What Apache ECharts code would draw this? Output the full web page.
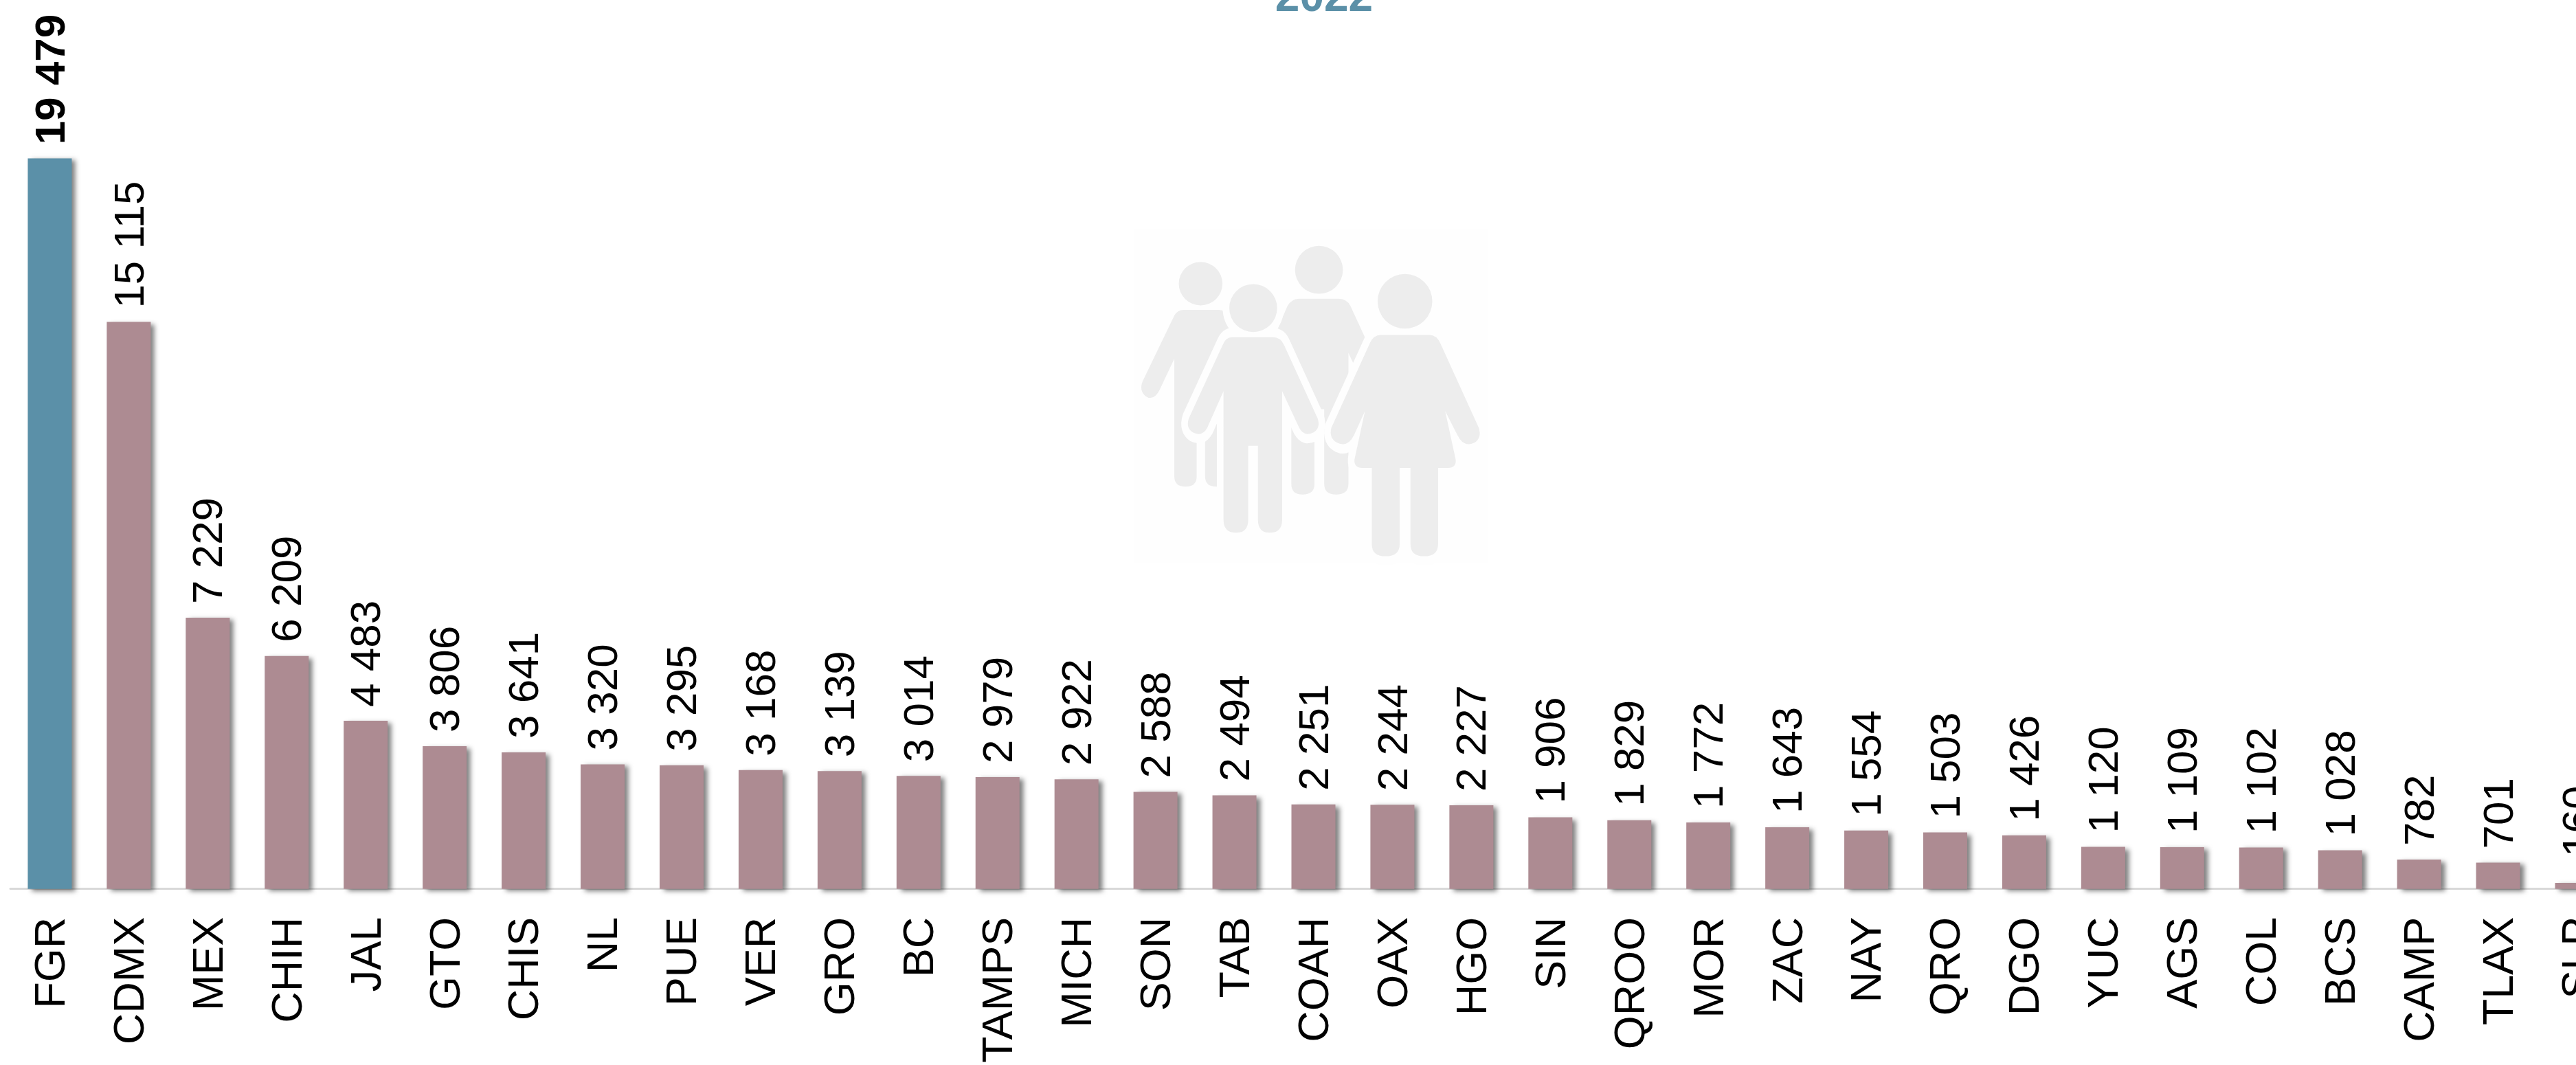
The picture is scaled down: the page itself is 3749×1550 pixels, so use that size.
<!DOCTYPE html>
<html>
<head>
<meta charset="utf-8">
<style>
  html, body { margin: 0; padding: 0; background: #fff; overflow: hidden; }
  /* wider than the window on purpose: the last bar is cut off by the right edge */
  #chart { width: 3808px; height: 1550px; }
</style>
<script src="https://cdn.jsdelivr.net/npm/echarts@6/dist/echarts.min.js"></script>
</head>
<body>
<div id="chart"></div>
<script>
const categories = ['FGR','CDMX','MEX','CHIH','JAL','GTO','CHIS','NL','PUE','VER','GRO','BC','TAMPS','MICH','SON','TAB','COAH','OAX','HGO','SIN','QROO','MOR','ZAC','NAY','QRO','DGO','YUC','AGS','COL','BCS','CAMP','TLAX','SLP']
const values = [19479,15115,7229,6209,4483,3806,3641,3320,3295,3168,3139,3014,2979,2922,2588,2494,2251,2244,2227,1906,1829,1772,1643,1554,1503,1426,1120,1109,1102,1028,782,701,160]
const titleText = '2022'

const FONT = '"Liberation Sans", Arial, sans-serif'
const BLUE = '#5b90a8'
const MAUVE = '#ad8b92'
const ICON_GREY = '#ededed'
const ICON_BG = '#fefefe'

// thousands with a space, the way the source prints them
const fmt = v => String(v).replace(/\B(?=(\d{3})+$)/g, ' ')

// head as two arcs
const head = (cx, cy, rx, ry) =>
    `M${cx - rx} ${cy}A${rx} ${ry} 0 1 1 ${cx + rx} ${cy}A${rx} ${ry} 0 1 1 ${cx - rx} ${cy}Z`

// silhouettes, drawn back to front, each cut out of the ones behind by a white outline
const figures = [
    head(385, 765, 83, 58) + 'M320 835L455 835Q480 835 492 855L612 1040Q630 1070 605 1095Q570 1112 550 1085L490 965L490 1280Q490 1307 445 1307Q402 1307 402 1280L402 1090L370 1090L370 1280Q370 1307 328 1307Q285 1307 285 1280L285 965L228 1050Q205 1080 175 1065Q150 1050 165 1025L285 850Q298 835 320 835Z',
    head(835, 728, 91, 64) + 'M760 805L910 805Q942 805 955 825L1060 985Q1075 1015 1045 1032Q1012 1045 995 1020L947 950L947 1300Q947 1328 900 1328Q855 1328 855 1300L855 1100L818 1100L818 1300Q818 1328 772 1328Q730 1328 730 1300L730 950L680 1020Q660 1040 630 1025Q605 1005 620 980L715 825Q730 805 760 805Z',
    head(585, 830, 91, 64) + 'M505 908L660 908Q690 908 703 930L830 1125Q842 1150 815 1162Q780 1175 760 1150L695 1052L695 1395Q695 1430 648 1430Q603 1430 603 1395L603 1198L566 1198L566 1395Q566 1430 520 1430Q472 1430 472 1395L472 1052L410 1150Q390 1175 355 1162Q328 1150 340 1125L468 930Q480 908 505 908Z',
    head(1162, 812, 104, 73) + 'M1070 902L1255 902Q1283 902 1297 925L1443 1150Q1455 1178 1425 1190Q1385 1203 1362 1170L1315 1105L1355 1235Q1358 1257 1325 1257L1288 1257L1288 1460Q1288 1493 1235 1493Q1183 1493 1183 1460L1183 1257L1142 1257L1142 1460Q1142 1493 1088 1493Q1036 1493 1036 1460L1036 1257L1000 1257Q968 1257 970 1235L1010 1105L968 1170Q945 1203 905 1190Q872 1178 882 1150L1028 925Q1042 902 1070 902Z'
]

const iconChildren = [{
    type: 'rect',
    shape: {x: 130, y: 620, width: 1350, height: 890},
    style: {fill: ICON_BG}
}]
figures.forEach(d => {
    iconChildren.push({type: 'path', shape: {pathData: d}, style: {fill: ICON_BG, stroke: ICON_BG, lineWidth: 50, lineJoin: 'round'}})
    iconChildren.push({type: 'path', shape: {pathData: d}, style: {fill: ICON_GREY}})
})

const chart = echarts.init(document.getElementById('chart'))

chart.setOption({
    animation: false,
    backgroundColor: '#fff',
    title: {
        text: titleText,
        left: 1922,
        top: -39,
        textAlign: 'center',
        textStyle: {color: BLUE, fontFamily: FONT, fontWeight: 'bold', fontSize: 64}
    },
    grid: {left: 15, top: 0, bottom: 254, right: 0, containLabel: false},
    xAxis: {
        type: 'category',
        data: categories,
        axisTick: {show: false},
        axisLine: {lineStyle: {color: '#d9d9d9', width: 3}},
        axisLabel: {
            rotate: 90,
            margin: 41,
            interval: 0,
            // rich padding nudges the rotated text onto the bar centre
            formatter: '{a|{value}}',
            rich: {a: {padding: [8, 0, 0, 0], color: '#000', fontFamily: FONT, fontSize: 63}}
        }
    },
    yAxis: {type: 'value', min: 0, max: 23700, show: false, splitLine: {show: false}},
    series: [{
        type: 'bar',
        barWidth: 64,
        data: values.map((v, i) => {
            const item = {value: v}
            if (i === 0) {
                item.itemStyle = {color: BLUE}
                item.label = {fontWeight: 'bold'}
            }
            if (i === values.length - 1) {
                item.label = {distance: 38}
            }
            return item
        }),
        itemStyle: {
            color: MAUVE,
            shadowColor: 'rgba(0,0,0,0.5)',
            shadowBlur: 7,
            shadowOffsetX: 6,
            shadowOffsetY: 3
        },
        label: {
            show: true,
            position: 'top',
            distance: 20,
            rotate: 90,
            align: 'left',
            verticalAlign: 'middle',
            offset: [0, 4],
            color: '#000',
            fontFamily: FONT,
            fontSize: 62,
            formatter: p => fmt(p.value)
        }
    }, {
        // family watermark, path elements only exist in custom series
        type: 'custom',
        silent: true,
        z: 0,
        data: [0],
        renderItem: () => ({
            type: 'group',
            x: 1600,
            y: -4,
            scaleX: 1 / 2.613,
            scaleY: 1 / 1.835,
            children: iconChildren
        })
    }]
})
</script>
</body>
</html>
